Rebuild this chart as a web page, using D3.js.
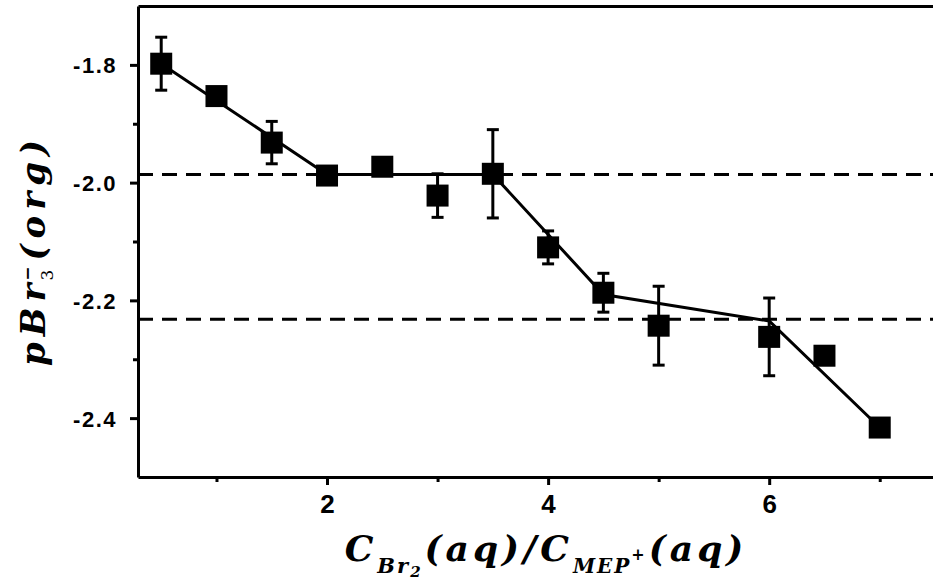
<!DOCTYPE html>
<html>
<head>
<meta charset="utf-8">
<script src="https://cdn.jsdelivr.net/npm/d3@7"></script>
<style>
  body { margin: 0; background: #fff; }
</style>
</head>
<body>
<div id="chart"></div>
<script>
// data
const ratio = [0.5, 1, 1.5, 2, 2.5, 3, 3.5, 4, 4.5, 5, 6, 6.5, 7];
const pBr3 = [-1.798, -1.853, -1.932, -1.988, -1.973, -2.022, -1.985, -2.110, -2.187, -2.243, -2.262, -2.294, -2.416];
const errBar = [0.045, 0.01, 0.036, 0.01, 0.01, 0.037, 0.075, 0.028, 0.033, 0.067, 0.066, 0, 0];

// piecewise linear fit
const fitX = [0.5, 2, 3.5, 4.5, 6, 7];
const fitY = [-1.798, -1.986, -1.986, -2.19, -2.235, -2.416];

// dashed plateau levels
const plateaus = [-1.986, -2.232];

const xTicks = [2, 4, 6];
const xMinor = [1, 3, 5, 7];
const yTicks = [-1.8, -2.0, -2.2, -2.4];
const yMinor = [-1.9, -2.1, -2.3];

const W = 933, H = 582;
const plotLeft = 138, plotRight = 935, plotTop = 6, plotBottom = 477;

const svg = d3.select("#chart")
  .append("svg")
    .attr("width", W)
    .attr("height", H)
    .style("background", "#fff");

const x = d3.scaleLinear().domain([0.29, 7.5]).range([plotLeft, plotRight]);
const y = d3.scaleLinear().domain([-2.5, -1.7]).range([plotBottom, plotTop]);

// minor ticks first so the main axis sits on top
const xMinorAxis = svg.append("g")
  .attr("transform", `translate(0, ${plotBottom})`)
  .call(d3.axisBottom(x).tickValues(xMinor).tickSize(5).tickSizeOuter(0).tickFormat(""))
  .call(g => g.select(".domain").remove());
const yMinorAxis = svg.append("g")
  .attr("transform", `translate(${plotLeft}, 0)`)
  .call(d3.axisLeft(y).tickValues(yMinor).tickSize(5).tickSizeOuter(0).tickFormat(""))
  .call(g => g.select(".domain").remove());

const xAxis = svg.append("g")
  .attr("transform", `translate(0, ${plotBottom})`)
  .call(d3.axisBottom(x).tickValues(xTicks).tickSize(8).tickSizeOuter(0).tickPadding(10)
    .tickFormat(d => d));
const yAxis = svg.append("g")
  .attr("transform", `translate(${plotLeft}, 0)`)
  .call(d3.axisLeft(y).tickValues(yTicks).tickSize(8).tickSizeOuter(0).tickPadding(13)
    .tickFormat(d => d.toFixed(1)));
const topAxis = svg.append("g")
  .attr("transform", `translate(0, ${plotTop})`)
  .call(d3.axisTop(x).tickValues([]).tickSizeOuter(0));

[xMinorAxis, yMinorAxis, xAxis, yAxis, topAxis].forEach(g => {
  g.selectAll("path, line").attr("stroke", "#000").attr("stroke-width", 3);
});

xAxis.selectAll("text")
  .attr("fill", "#000")
  .attr("font-family", "'Liberation Sans', Arial, sans-serif")
  .attr("font-weight", "bold")
  .attr("font-size", "26px");
yAxis.selectAll("text")
  .attr("fill", "#000")
  .attr("font-family", "'Liberation Sans', Arial, sans-serif")
  .attr("font-weight", "bold")
  .attr("font-size", "22px")
  .attr("letter-spacing", "1.5px")
  .attr("dy", "0.36em");

// dashed plateau lines
svg.selectAll("line.plateau")
  .data(plateaus)
  .join("line")
    .attr("class", "plateau")
    .attr("x1", plotLeft)
    .attr("x2", plotRight)
    .attr("y1", d => y(d))
    .attr("y2", d => y(d))
    .attr("stroke", "#000")
    .attr("stroke-width", 3)
    .attr("stroke-dasharray", "15,9");

// fit line
const fit = fitX.map((v, i) => [v, fitY[i]]);
svg.append("path")
  .datum(fit)
  .attr("fill", "none")
  .attr("stroke", "#000")
  .attr("stroke-width", 3)
  .attr("d", d3.line().x(d => x(d[0])).y(d => y(d[1])));

const pts = ratio.map((v, i) => ({ x: v, y: pBr3[i], e: errBar[i] }));

// error bars
const eb = svg.append("g").selectAll("g")
  .data(pts.filter(d => d.e > 0))
  .join("g");
eb.append("line")
  .attr("x1", d => x(d.x)).attr("x2", d => x(d.x))
  .attr("y1", d => y(d.y + d.e)).attr("y2", d => y(d.y - d.e))
  .attr("stroke", "#000").attr("stroke-width", 3);
eb.append("line")
  .attr("x1", d => x(d.x) - 6).attr("x2", d => x(d.x) + 6)
  .attr("y1", d => y(d.y + d.e)).attr("y2", d => y(d.y + d.e))
  .attr("stroke", "#000").attr("stroke-width", 3);
eb.append("line")
  .attr("x1", d => x(d.x) - 6).attr("x2", d => x(d.x) + 6)
  .attr("y1", d => y(d.y - d.e)).attr("y2", d => y(d.y - d.e))
  .attr("stroke", "#000").attr("stroke-width", 3);

// square markers
const sq = 22;
svg.append("g").selectAll("rect")
  .data(pts)
  .join("rect")
    .attr("x", d => x(d.x) - sq / 2)
    .attr("y", d => y(d.y) - sq / 2)
    .attr("width", sq)
    .attr("height", sq)
    .attr("fill", "#000");

// axis titles
const mathFont = "'DejaVu Serif', serif";

const yTitle = svg.append("text")
  .attr("transform", "translate(45, 250) rotate(-90)")
  .attr("text-anchor", "middle")
  .attr("font-family", mathFont)
  .attr("font-style", "italic")
  .attr("font-weight", "bold")
  .attr("font-size", "34px")
  .attr("letter-spacing", "6px")
  .attr("fill", "#000");
yTitle.append("tspan").text("pBr");
yTitle.append("tspan").attr("font-size", "17px").attr("font-style", "normal").attr("font-weight", "normal")
  .attr("dx", -3).attr("dy", 8).text("3");
yTitle.append("tspan").attr("font-size", "17px").attr("font-style", "normal")
  .attr("dx", -17).attr("dy", -20).text("\u2212");
yTitle.append("tspan").attr("dy", 12).text("(org)");

const xTitle = svg.append("text")
  .attr("x", 546)
  .attr("y", 561)
  .attr("text-anchor", "middle")
  .attr("font-family", mathFont)
  .attr("font-style", "italic")
  .attr("font-weight", "bold")
  .attr("font-size", "36px")
  .attr("letter-spacing", "4px")
  .attr("fill", "#000");
xTitle.append("tspan").text("C");
xTitle.append("tspan").attr("font-size", "21px").attr("letter-spacing", "2px").attr("dy", 12).text("Br");
xTitle.append("tspan").attr("font-size", "15px").attr("dy", 4).text("2");
xTitle.append("tspan").attr("dy", -16).text("(aq)/C");
xTitle.append("tspan").attr("font-size", "20px").attr("letter-spacing", "2px").attr("dy", 12).text("MEP");
xTitle.append("tspan").attr("font-size", "16px").attr("dy", -13).text("+");
xTitle.append("tspan").attr("dy", 1).text("(aq)");
</script>
</body>
</html>
